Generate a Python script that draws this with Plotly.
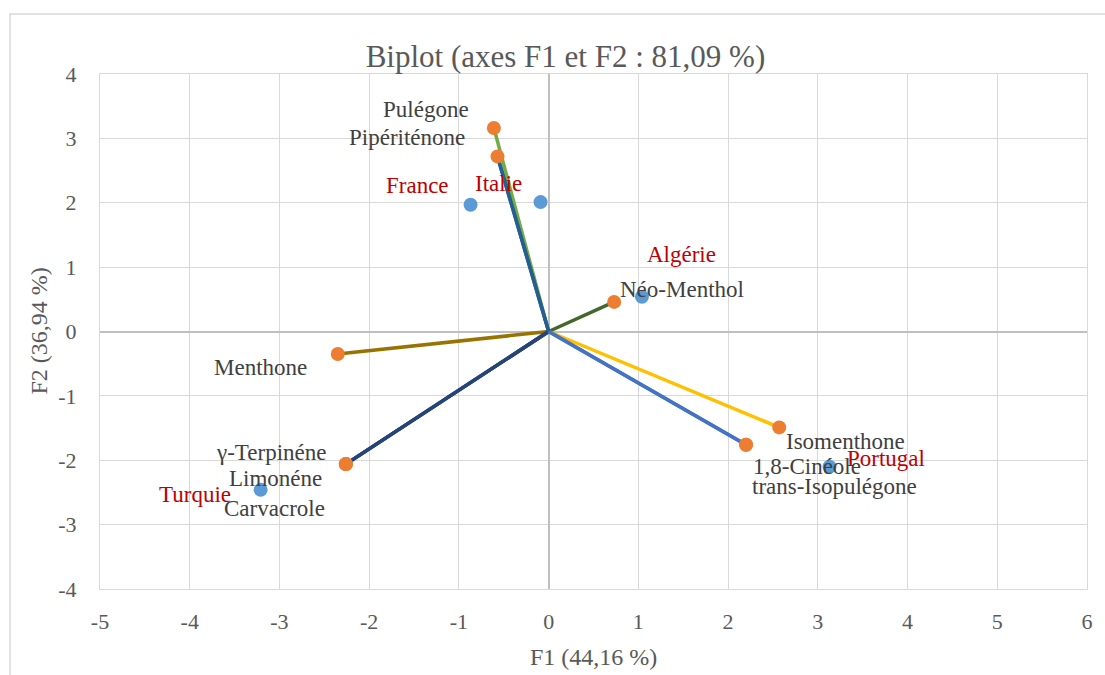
import plotly.graph_objects as go

# ---- data ----
variables = ["Pulégone", "Pipériténone", "Néo-Menthol", "Menthone", "γ-Terpinéne",
             "Limonéne", "Carvacrole", "Isomenthone", "1,8-Cinéole", "trans-Isopulégone"]
var_f1 = [-0.61, -0.57, 0.73, -2.35, -2.26, -2.26, -2.26, 2.57, 2.20, 2.20]
var_f2 = [3.16, 2.72, 0.46, -0.35, -2.06, -2.06, -2.06, -1.49, -1.76, -1.76]

countries = ["France", "Italie", "Algérie", "Turquie", "Portugal"]
obs_f1 = [-0.87, -0.09, 1.04, -3.21, 3.13]
obs_f2 = [1.97, 2.01, 0.54, -2.46, -2.10]

x_ticks = [-5, -4, -3, -2, -1, 0, 1, 2, 3, 4, 5, 6]
y_ticks = [-4, -3, -2, -1, 0, 1, 2, 3, 4]

# ---- styles ----
line_colors = ["#70AD47", "#255E91", "#43682B", "#997300", "#264478",
               "#264478", "#264478", "#FFC000", "#4472C4", "#4472C4"]
var_label_shift = [(-68, 19), (-90, 19), (68, 12), (-77, -13), (-75, 12),
                   (-70, -14), (-71, -44), (66, -14), (61, -22), (88, -42)]
obs_label_shift = [(-53, 19), (-42, 19), (40, 42), (-66, -5), (57, 8)]

FONT = "Liberation Serif"

fig = go.Figure()

# observations (blue)
fig.add_trace(go.Scatter(x=obs_f1, y=obs_f2, mode="markers",
                         marker=dict(color="#5B9BD5", size=14),
                         hoverinfo="text", text=countries, showlegend=False))

# variable vectors
for i in range(len(variables)):
    fig.add_trace(go.Scatter(x=[0, var_f1[i]], y=[0, var_f2[i]], mode="lines",
                             line=dict(color=line_colors[i], width=3.5),
                             hoverinfo="skip", showlegend=False))
# draw Pipériténone over Pulégone
fig.add_trace(go.Scatter(x=[0, var_f1[1]], y=[0, var_f2[1]], mode="lines",
                         line=dict(color=line_colors[1], width=3.5),
                         hoverinfo="skip", showlegend=False))

fig.add_trace(go.Scatter(x=var_f1, y=var_f2, mode="markers",
                         marker=dict(color="#ED7D31", size=14),
                         hoverinfo="text", text=variables, showlegend=False))

annotations = []
for name, x, y, (dx, dy) in zip(variables, var_f1, var_f2, var_label_shift):
    annotations.append(dict(x=x, y=y, xref="x", yref="y", text=name, showarrow=False,
                            xshift=dx, yshift=dy, xanchor="center", yanchor="middle",
                            font=dict(family=FONT, size=23, color="#404040")))
for name, x, y, (dx, dy) in zip(countries, obs_f1, obs_f2, obs_label_shift):
    annotations.append(dict(x=x, y=y, xref="x", yref="y", text=name, showarrow=False,
                            xshift=dx, yshift=dy, xanchor="center", yanchor="middle",
                            font=dict(family=FONT, size=23, color="#C00000")))

# axis titles
annotations.append(dict(x=0.5, y=0, xref="paper", yref="paper", text="F1 (44,16 %)",
                        showarrow=False, yshift=-68, xanchor="center", yanchor="middle",
                        font=dict(family=FONT, size=24, color="#595959")))
annotations.append(dict(x=0, y=0.5, xref="paper", yref="paper", text="F2 (36,94 %)",
                        showarrow=False, xshift=-62, textangle=-90,
                        xanchor="center", yanchor="middle",
                        font=dict(family=FONT, size=24, color="#595959")))

fig.update_layout(
    width=1105, height=675,
    margin=dict(l=100, r=18, t=74, b=86),
    paper_bgcolor="white", plot_bgcolor="white",
    title=dict(text="Biplot (axes F1 et F2 : 81,09 %)", x=0.4716, xref="paper",
               xanchor="center", y=1 - 56 / 675, yref="container", yanchor="middle",
               font=dict(family=FONT, size=31, color="#595959")),
    annotations=annotations,
    shapes=[dict(type="rect", xref="paper", yref="paper",
                 x0=(10 - 100) / 987, x1=1.2, y0=-0.5, y1=(589 - 14) / 515,
                 line=dict(color="#D9D9D9", width=1.5), layer="below")],
    xaxis=dict(range=[-5, 6], tickvals=x_ticks, ticktext=[str(v) for v in x_ticks],
               showgrid=True, gridcolor="#D9D9D9", gridwidth=1,
               zeroline=True, zerolinecolor="#BFBFBF", zerolinewidth=1.5,
               showline=True, mirror=True, linecolor="#D9D9D9", linewidth=1,
               ticks="", ticklabelstandoff=13,
               tickfont=dict(family=FONT, size=22, color="#595959"), fixedrange=True),
    yaxis=dict(range=[-4, 4], tickvals=y_ticks, ticktext=[str(v) for v in y_ticks],
               showgrid=True, gridcolor="#D9D9D9", gridwidth=1,
               zeroline=True, zerolinecolor="#BFBFBF", zerolinewidth=1.5,
               showline=True, mirror=True, linecolor="#D9D9D9", linewidth=1,
               ticks="", ticklabelstandoff=18,
               tickfont=dict(family=FONT, size=22, color="#595959"), fixedrange=True),
)

fig.write_html("out.html")
